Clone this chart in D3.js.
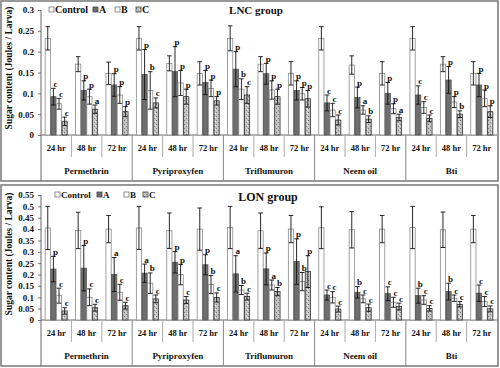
<!DOCTYPE html>
<html><head><meta charset="utf-8">
<script src="https://cdn.jsdelivr.net/npm/d3@7"></script>
<style>
html,body{margin:0;padding:0;background:#fff;}
svg{display:block;}
text{font-family:"Liberation Serif","Times New Roman",serif;font-weight:bold;fill:#111;}
</style></head>
<body>
<svg id="chart" width="500" height="368"></svg>
<script>
const drugs = ["Permethrin","Pyriproxyfen","Triflumuron","Neem oil","Bti"];
const hours = ["24 hr","48 hr","72 hr"];
const series = ["Control","A","B","C"];

// LNC group
const lncControl    = [0.232,0.170,0.148, 0.232,0.172,0.148, 0.232,0.170,0.148, 0.232,0.168,0.148, 0.232,0.170,0.148];
const lncControlErr = [0.028,0.018,0.027, 0.028,0.018,0.028, 0.030,0.018,0.028, 0.028,0.022,0.028, 0.028,0.018,0.028];
const lncA    = [0.092,0.107,0.120, 0.145,0.152,0.126, 0.158,0.147,0.107, 0.077,0.090,0.100, 0.096,0.132,0.120];
const lncAErr = [0.020,0.023,0.027, 0.060,0.060,0.029, 0.042,0.025,0.023, 0.019,0.025,0.026, 0.022,0.032,0.028];
const lncB    = [0.075,0.092,0.096, 0.107,0.125,0.112, 0.110,0.108,0.099, 0.060,0.060,0.063, 0.066,0.079,0.088];
const lncBErr = [0.013,0.018,0.020, 0.045,0.030,0.020, 0.025,0.022,0.015, 0.016,0.010,0.012, 0.014,0.013,0.020];
const lncC    = [0.033,0.062,0.056, 0.077,0.092,0.082, 0.096,0.092,0.087, 0.036,0.038,0.042, 0.040,0.050,0.056];
const lncCErr = [0.010,0.010,0.012, 0.012,0.018,0.010, 0.020,0.018,0.020, 0.012,0.008,0.008, 0.008,0.008,0.014];
const lncLetA = ["c","p","p","p","p","p","p","p","p","c","p","p","c","p","p"];
const lncLetB = ["c","p","p","b","p","p","b","p","p","c","a","p","c","p","p"];
const lncLetC = ["c","a","p","c","p","p","c","p","p","c","b","a","c","b","p"];
const lncTicks = [0,0.05,0.1,0.15,0.2,0.25,0.3];

// LON group
const lonControl    = [0.405,0.394,0.400, 0.405,0.393,0.400, 0.407,0.393,0.400, 0.406,0.397,0.400, 0.407,0.397,0.400];
const lonControlErr = [0.095,0.080,0.060, 0.095,0.078,0.093, 0.093,0.078,0.060, 0.092,0.080,0.060, 0.093,0.078,0.060];
const lonA    = [0.224,0.228,0.200, 0.206,0.254,0.243, 0.203,0.225,0.257, 0.110,0.122,0.116, 0.107,0.125,0.118];
const lonAErr = [0.056,0.100,0.075, 0.040,0.047,0.044, 0.080,0.070,0.100, 0.022,0.025,0.030, 0.033,0.037,0.036];
const lonB    = [0.107,0.100,0.122, 0.162,0.200,0.156, 0.132,0.154,0.169, 0.100,0.093,0.078, 0.088,0.096,0.081];
const lonBErr = [0.033,0.037,0.035, 0.045,0.045,0.040, 0.020,0.022,0.040, 0.025,0.017,0.022, 0.019,0.014,0.022];
const lonC    = [0.040,0.054,0.063, 0.093,0.088,0.099, 0.103,0.125,0.213, 0.048,0.054,0.059, 0.051,0.069,0.049];
const lonCErr = [0.014,0.015,0.015, 0.017,0.015,0.020, 0.015,0.018,0.070, 0.013,0.016,0.015, 0.012,0.012,0.013];
const lonLetA = ["p","p","a","a","p","p","a","p","p","c","b","c","b","b","c"];
const lonLetB = ["c","c","c","b","p","b","b","a","b","c","c","c","c","c","c"];
const lonLetC = ["c","c","c","c","c","c","c","b","p","c","c","c","c","c","c"];
const lonTicks = [0,0.05,0.1,0.15,0.2,0.25,0.3,0.35,0.4,0.45,0.5,0.55];

const svg = d3.select("#chart");
const defs = svg.append("defs");
const pat = defs.append("pattern").attr("id","stip").attr("patternUnits","userSpaceOnUse")
  .attr("width",4).attr("height",4);
pat.append("rect").attr("width",4).attr("height",4).attr("fill","#c4c4c4");
pat.append("rect").attr("x",0).attr("y",0).attr("width",1).attr("height",1).attr("fill","#7a7a7a");
pat.append("rect").attr("x",2).attr("y",2).attr("width",1).attr("height",1).attr("fill","#8a8a8a");
pat.append("rect").attr("x",3).attr("y",1).attr("width",1).attr("height",1).attr("fill","#eee");

const fills = {Control:"#ffffff", A:"#6e6e6e", B:"#ffffff", C:"url(#stip)"};
const strokes = {Control:"#8a8a8a", A:"#555", B:"#8a8a8a", C:"#333"};

function drawPanel(cfg){
  const g = svg.append("g");
  g.append("rect").attr("x",cfg.box[0]).attr("y",cfg.box[1]).attr("width",cfg.box[2]).attr("height",cfg.box[3])
    .attr("fill","#fff").attr("stroke","#777").attr("stroke-width",1.5);
  const y = d3.scaleLinear().domain([0,cfg.ymax]).range([cfg.y0,cfg.y1]);
  const x0 = d3.scaleBand().domain(d3.range(15)).range([41,497]).paddingInner(0.26).paddingOuter(0.13);
  const x1 = d3.scaleBand().domain(series).range([0,x0.bandwidth()]);
  const step = x0.step();
  const left = 41;

  // y axis
  const ax = g.append("g").attr("transform",`translate(${left},0)`)
    .call(d3.axisLeft(y).tickValues(cfg.ticks).tickSize(3).tickPadding(4).tickFormat(d=>d===0?"0":String(+d.toFixed(2))));
  ax.select(".domain").remove();
  ax.selectAll(".tick line").attr("stroke","#777");
  ax.selectAll(".tick text").attr("font-size",9).attr("font-family","Liberation Serif").attr("font-weight","bold").attr("fill","#111");
  g.append("line").attr("x1",left).attr("x2",left).attr("y1",y(cfg.ymax)).attr("y2",cfg.bottom).attr("stroke","#666");
  // baseline
  g.append("line").attr("x1",left).attr("x2",497).attr("y1",cfg.y0).attr("y2",cfg.y0).attr("stroke","#666");
  // separators
  for(let i=1;i<15;i++){
    const xx = left + step*i;
    const isDrug = i%3===0;
    g.append("line").attr("x1",xx).attr("x2",xx).attr("y1",cfg.y0)
      .attr("y2",isDrug?cfg.bottom:cfg.y0+22).attr("stroke",isDrug?"#888":"#aaa");
  }
  // hour labels
  d3.range(15).forEach(i=>{
    g.append("text").attr("x",x0(i)+x0.bandwidth()/2).attr("y",cfg.y0+16).attr("text-anchor","middle")
      .attr("font-size",8.5).text(hours[i%3]);
  });
  drugs.forEach((d,j)=>{
    g.append("text").attr("x",left+step*(3*j+1.5)).attr("y",cfg.y0+39).attr("text-anchor","middle")
      .attr("font-size",9).text(d);
  });

  // bars
  const data=[];
  d3.range(15).forEach(i=>{
    series.forEach((s,k)=>{
      data.push({i,s,v:cfg.vals[k][i],e:cfg.errs[k][i],l:k===0?"":cfg.lets[k-1][i]});
    });
  });
  const bw = x1.bandwidth()-0.4;
  g.selectAll("rect.bar").data(data).join("rect").attr("class","bar")
    .attr("x",d=>x0(d.i)+x1(d.s)+0.2).attr("width",bw)
    .attr("y",d=>y(d.v)).attr("height",d=>cfg.y0-y(d.v))
    .attr("fill",d=>fills[d.s]).attr("stroke",d=>strokes[d.s]).attr("stroke-width",0.8);
  // error bars
  const eg = g.append("g").attr("stroke","#111").attr("stroke-width",0.9);
  data.forEach(d=>{
    const cx = x0(d.i)+x1(d.s)+x1.bandwidth()/2;
    eg.append("line").attr("x1",cx).attr("x2",cx).attr("y1",y(d.v+d.e)).attr("y2",y(Math.max(0,d.v-d.e)));
    eg.append("line").attr("x1",cx-2.3).attr("x2",cx+2.3).attr("y1",y(d.v+d.e)).attr("y2",y(d.v+d.e));
    eg.append("line").attr("x1",cx-2.3).attr("x2",cx+2.3).attr("y1",y(Math.max(0,d.v-d.e))).attr("y2",y(Math.max(0,d.v-d.e)));
    if(d.l){
      g.append("text").attr("x",cx+2).attr("y",y(d.v+d.e)-1.5).attr("text-anchor","middle")
        .attr("font-size",9).text(d.l);
    }
  });

  // y label
  g.append("text").attr("transform",`translate(${cfg.ylabX},${cfg.ylabY}) rotate(-90)`)
    .attr("text-anchor","middle").attr("font-size",cfg.ylabSize).text("Sugar content (Joules / Larva)");
  // title
  g.append("text").attr("x",cfg.titleX).attr("y",cfg.titleY).attr("text-anchor","middle")
    .attr("font-size",cfg.titleSize).text(cfg.title);
  // legend
  series.forEach((s,k)=>{
    const lx = cfg.legX[k];
    g.append("rect").attr("x",lx).attr("y",cfg.legY-3).attr("width",5).attr("height",5)
      .attr("fill",fills[s]).attr("stroke",s==="C"||s==="A"?"#444":"#777").attr("stroke-width",0.8);
    g.append("text").attr("x",lx+6).attr("y",cfg.legY+2.5).attr("font-size",cfg.legSize).text(s);
  });
}

drawPanel({box:[1,1,497,180], y0:135, y1:10, ymax:0.3, ticks:lncTicks, bottom:181,
  vals:[lncControl,lncA,lncB,lncC], errs:[lncControlErr,lncAErr,lncBErr,lncCErr], lets:[lncLetA,lncLetB,lncLetC],
  ylabX:12, ylabY:68, ylabSize:9.5, title:"LNC group", titleX:256, titleY:14, titleSize:11,
  legX:[49,93,115,136], legY:10, legSize:10});
drawPanel({box:[1,185,497,181], y0:320, y1:195, ymax:0.55, ticks:lonTicks, bottom:366,
  vals:[lonControl,lonA,lonB,lonC], errs:[lonControlErr,lonAErr,lonBErr,lonCErr], lets:[lonLetA,lonLetB,lonLetC],
  ylabX:12, ylabY:254, ylabSize:9.5, title:"LON group", titleX:268, titleY:201, titleSize:12,
  legX:[55,97,124,143], legY:195, legSize:9});
</script>
</body></html>
